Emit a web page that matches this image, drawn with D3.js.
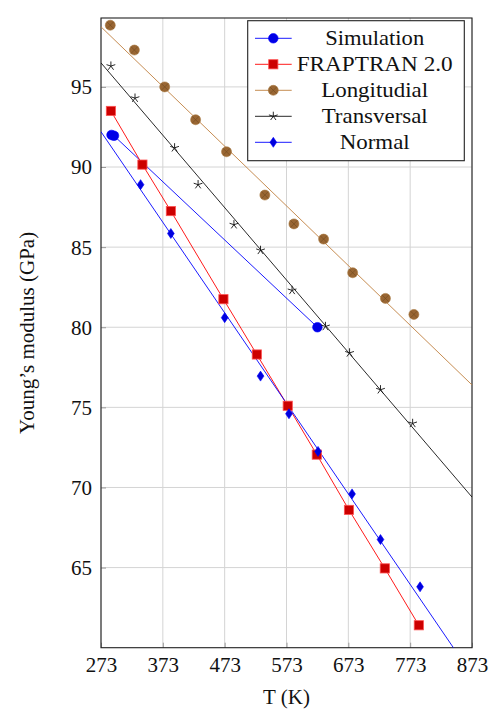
<!DOCTYPE html>
<html>
<head>
<meta charset="utf-8">
<script src="https://cdn.jsdelivr.net/npm/d3@7"></script>
<style>
  body { margin: 0; background: #fff; }
  text { font-family: "Liberation Serif", "DejaVu Serif", serif; fill: #111; }
</style>
</head>
<body>
<script>
// data (T in K, E in GPa)
const simT = [290, 294, 623];
const simE = [92.0, 91.95, 80.0];

const frapT = [289, 340, 386, 471, 525, 575, 622, 674, 732, 787];
const frapE = [93.5, 90.15, 87.25, 81.75, 78.3, 75.1, 72.05, 68.6, 64.95, 61.4];

const longT = [288, 327, 376, 426, 476, 538, 585, 633, 680, 733, 779];
const longE = [98.85, 97.3, 95.0, 92.95, 90.95, 88.25, 86.45, 85.5, 83.4, 81.8, 80.8];
const longFitT = [273, 873];
const longFitE = [98.75, 76.4];

const transT = [289, 328, 392, 430, 488, 531, 582, 636, 675, 725, 777];
const transE = [96.3, 94.3, 91.2, 88.9, 86.4, 84.8, 82.3, 80.05, 78.4, 76.1, 74.0];
const transFitT = [273, 873];
const transFitE = [96.5, 69.4];

const normT = [337, 386, 473, 531, 577, 624, 679, 725, 789];
const normE = [88.9, 85.85, 80.6, 76.95, 74.6, 72.25, 69.6, 66.75, 63.8];
const normFitT = [273, 873];
const normFitE = [92.2, 58.3];

const xTicks = [273, 373, 473, 573, 673, 773, 873];
const yTicks = [65, 70, 75, 80, 85, 90, 95];

const legendNames = ["Simulation", "FRAPTRAN 2.0", "Longitudial", "Transversal", "Normal"];
const legendWidths = [99, 156, 107, 106, 70];

const W = 496, H = 711;
const m = { top: 18, right: 24, bottom: 63.3, left: 101 };

const svg = d3.select("body").append("svg")
  .attr("width", W)
  .attr("height", H);

const x = d3.scaleLinear().domain([273, 873]).range([m.left, W - m.right]);
const y = d3.scaleLinear().domain([60, 99.3]).range([H - m.bottom, m.top]);

svg.append("defs").append("clipPath").attr("id", "plot")
  .append("rect")
  .attr("x", m.left).attr("y", m.top)
  .attr("width", x.range()[1] - m.left)
  .attr("height", y.range()[0] - m.top);

// grid
const grid = svg.append("g").attr("stroke", "#d4d4d4").attr("stroke-width", 1);
grid.selectAll(".gx").data(xTicks).join("line")
  .attr("x1", d => x(d)).attr("x2", d => x(d))
  .attr("y1", m.top).attr("y2", H - m.bottom);
grid.selectAll(".gy").data(yTicks).join("line")
  .attr("x1", m.left).attr("x2", W - m.right)
  .attr("y1", d => y(d)).attr("y2", d => y(d));

// axes, ticks drawn inside like pgfplots
const xAxis = d3.axisBottom(x).tickValues(xTicks).tickSizeInner(-5).tickSizeOuter(0).tickPadding(9);
const yAxis = d3.axisLeft(y).tickValues(yTicks).tickSizeInner(-5).tickSizeOuter(0).tickPadding(9);

const gx = svg.append("g").attr("transform", `translate(0,${H - m.bottom})`).call(xAxis);
const gy = svg.append("g").attr("transform", `translate(${m.left},0)`).call(yAxis);
[gx, gy].forEach(g => {
  g.select(".domain").remove();
  g.selectAll(".tick line").attr("stroke", "#9a9a9a");
  g.selectAll(".tick text")
    .style("font-family", '"Liberation Serif", serif')
    .style("font-size", "21px")
    .attr("fill", "#111");
});
gy.selectAll(".tick text").attr("dy", "0.33em");
gx.selectAll(".tick text").attr("dy", "0.72em");

// frame
svg.append("rect")
  .attr("x", m.left).attr("y", m.top)
  .attr("width", x.range()[1] - m.left)
  .attr("height", y.range()[0] - m.top)
  .attr("fill", "none").attr("stroke", "#222").attr("stroke-width", 1.1);

// axis labels
svg.append("text")
  .attr("x", (m.left + W - m.right) / 2).attr("y", 704)
  .attr("text-anchor", "middle").style("font-size", "21px")
  .text("T (K)");
svg.append("text")
  .attr("transform", `translate(34,${(m.top + H - m.bottom) / 2}) rotate(-90)`)
  .attr("text-anchor", "middle").style("font-size", "21px")
  .text("Young\u2019s modulus (GPa)");

// markers
function circleMark(g, cx, cy) {
  g.append("circle").attr("cx", cx).attr("cy", cy).attr("r", 4.8)
    .attr("fill", "#0000e6").attr("stroke", "#0000ff").attr("stroke-width", 0.6);
}
function squareMark(g, cx, cy) {
  g.append("rect").attr("x", cx - 4.6).attr("y", cy - 4.6).attr("width", 9.2).attr("height", 9.2)
    .attr("fill", "#cc0000").attr("stroke", "#ff5050").attr("stroke-width", 0.8);
}
function otimesMark(g, cx, cy) {
  const r = 5;
  g.append("circle").attr("cx", cx).attr("cy", cy).attr("r", r)
    .attr("fill", "#996633").attr("stroke", "#a87840").attr("stroke-width", 0.6);
  const k = r * 0.7;
  g.append("path")
    .attr("d", `M${cx - k},${cy - k}L${cx + k},${cy + k}M${cx - k},${cy + k}L${cx + k},${cy - k}`)
    .attr("stroke", "#70491f").attr("stroke-width", 0.6);
}
function starMark(g, cx, cy) {
  const r = 4.6;
  let d = "";
  for (let i = 0; i < 5; i++) {
    const a = -Math.PI / 2 + i * 2 * Math.PI / 5;
    d += `M${cx},${cy}L${cx + r * Math.cos(a)},${cy + r * Math.sin(a)}`;
  }
  g.append("path").attr("d", d).attr("stroke", "#111").attr("stroke-width", 0.9).attr("fill", "none");
}
function diamondMark(g, cx, cy) {
  g.append("path")
    .attr("d", `M${cx},${cy - 5}L${cx + 3.4},${cy}L${cx},${cy + 5}L${cx - 3.4},${cy}Z`)
    .attr("fill", "#0000dd").attr("stroke", "#0000ff").attr("stroke-width", 0.6);
}

const line = d3.line().x(d => x(d[0])).y(d => y(d[1]));
const zip = (a, b) => a.map((v, i) => [v, b[i]]);

const series = [
  { name: legendNames[0], lineT: simT, lineE: simE, T: simT, E: simE, color: "#0000ff", mark: circleMark },
  { name: legendNames[1], lineT: frapT, lineE: frapE, T: frapT, E: frapE, color: "#ff0000", mark: squareMark },
  { name: legendNames[2], lineT: longFitT, lineE: longFitE, T: longT, E: longE, color: "#bf8040", mark: otimesMark },
  { name: legendNames[3], lineT: transFitT, lineE: transFitE, T: transT, E: transE, color: "#111111", mark: starMark },
  { name: legendNames[4], lineT: normFitT, lineE: normFitE, T: normT, E: normE, color: "#0000ff", mark: diamondMark }
];

const plot = svg.append("g").attr("clip-path", "url(#plot)");
series.forEach(s => {
  plot.append("path")
    .attr("d", line(zip(s.lineT, s.lineE)))
    .attr("fill", "none").attr("stroke", s.color).attr("stroke-width", 0.9);
});
series.forEach(s => {
  const g = plot.append("g");
  s.T.forEach((t, i) => s.mark(g, x(t), y(s.E[i])));
});

// legend
const lg = svg.append("g");
lg.append("rect")
  .attr("x", 247.7).attr("y", 20.7).attr("width", 216.6).attr("height", 140)
  .attr("fill", "#fff").attr("stroke", "#222").attr("stroke-width", 1.1);
series.forEach((s, i) => {
  const cy = 38.3 + i * 26;
  lg.append("line")
    .attr("x1", 255).attr("x2", 291.7).attr("y1", cy).attr("y2", cy)
    .attr("stroke", s.color).attr("stroke-width", 0.9);
  s.mark(lg, 273.3, cy);
  lg.append("text")
    .attr("x", 374.7).attr("y", cy + 7)
    .attr("text-anchor", "middle").style("font-size", "21px")
    .attr("textLength", legendWidths[i]).attr("lengthAdjust", "spacingAndGlyphs")
    .text(s.name);
});
</script>
</body>
</html>
